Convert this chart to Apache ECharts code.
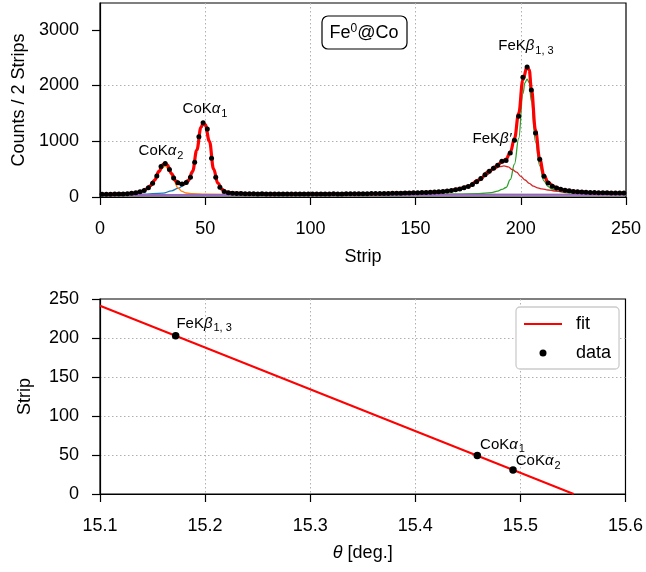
<!DOCTYPE html>
<html><head><meta charset="utf-8">
<script src="https://cdn.jsdelivr.net/npm/echarts@6/dist/echarts.min.js"></script>
<style>html,body{margin:0;padding:0;background:#fff}#c{width:646px;height:572px}</style>
</head><body><div id="c"></div>
<script>
// ---- top panel: spectrum (counts per 2 strips) ----
const stripX = [1,3,5,7,9,11,13,15,17,19,21,23,25,27,29,31,33,35,37,39,41,43,45,47,49,51,53,55,57,59,61,63,65,67,69,71,73,75,77,79,81,83,85,87,89,91,93,95,97,99,101,103,105,107,109,111,113,115,117,119,121,123,125,127,129,131,133,135,137,139,141,143,145,147,149,151,153,155,157,159,161,163,165,167,169,171,173,175,177,179,181,183,185,187,189,191,193,195,197,199,201,203,205,207,209,211,213,215,217,219,221,223,225,227,229,231,233,235,237,239,241,243,245,247,249];
const counts = [48,50,50,52,55,56,60,66,75,92,118,165,245,375,545,600,495,340,255,232,258,355,625,1080,1330,1220,695,355,175,100,78,68,64,62,60,58,58,56,57,55,55,54,56,54,55,54,53,55,54,55,56,54,55,56,55,57,56,56,58,57,58,59,60,60,61,62,63,64,65,66,67,68,70,72,74,76,79,82,85,90,95,100,108,118,130,145,165,190,222,275,330,400,460,515,570,640,655,790,1020,1450,2150,2330,1920,1150,675,370,250,195,160,138,122,110,100,95,90,86,82,80,78,76,74,73,72,71,70];
// total fit (red)
const fitX = [0,10,16,20,22,24,26,28,30,31,32,34,36,38,40,42,44,46,48,49,50,52,54,56,58,60,64,70,100,130,150,160,165,170,175,180,185,188,191,193,195,197,199,201,203,204,205,207,209,211,213,216,220,225,235,250];
const fitY = [45,55,70,103,140,205,305,460,585,600,570,420,290,235,240,300,460,840,1250,1320,1300,1000,500,250,135,90,68,60,55,62,80,88,105,140,190,305,460,545,625,680,800,1050,1500,2100,2340,2280,1950,1200,680,390,260,180,130,100,80,68];
// components
const c1X = [0,20,30,34,37,40,42,44,46,48,49,50,52,54,56,58,60,65,75,100,250];          // CoKα1 (blue)
const c1Y = [42,50,70,110,155,215,265,420,850,1230,1290,1270,1000,520,250,140,95,62,50,45,42];
const c2X = [0,15,20,24,27,29,31,33,35,37,39,41,44,50,70,250];                           // CoKα2 (orange)
const c2Y = [45,60,90,190,360,500,555,470,300,165,100,72,60,52,45,42];
const c3X = [150,170,180,186,189,191,193,195,197,199,201,202,203,204,205,207,209,211,213,215,218,222,230,250]; // FeKβ1,3 (green)
const c3Y = [45,50,62,80,105,135,170,310,590,1050,1850,2050,2115,2050,1720,990,560,290,185,140,100,75,58,48];
const c4X = [130,150,160,170,175,180,184,187,190,192,194,196,198,200,202,204,206,208,210,213,216,220,225,235,250]; // FeKβ' (dark red)
const c4Y = [55,75,105,130,180,290,400,490,545,558,540,490,445,370,305,245,195,165,145,126,108,92,80,65,55];
const bgX = [0,250];                                                                        // background (purple)
const bgY = [38,42];

// ---- bottom panel: calibration ----
const thetaPts = [15.172, 15.459, 15.493];
const stripPts = [203, 49.4, 30.8];
const ptNames = [['FeK','β','1, 3'],['CoK','α','1'],['CoK','α','2']];
const fitTheta = [15.1, 15.5507];
const fitStrip = [241.4, 0];

const zip = (a,b) => a.map((v,i)=>[v,b[i]]);
const FONT = 'Liberation Sans';
const rich = {
  n:{fontSize:15,fontFamily:FONT,color:'#000',lineHeight:20},
  g:{fontSize:15,fontFamily:FONT,fontStyle:'italic',color:'#000',lineHeight:20},
  s:{fontSize:11,fontFamily:FONT,color:'#000',lineHeight:20,padding:[9,0,0,1]}
};
const lab = p => `{n|${p[0]}}{g|${p[1]}}{s|${p[2]}}`;

const chart = echarts.init(document.getElementById('c'));
const axisCommon = {
  axisLine:{show:true,onZero:false,lineStyle:{color:'#000',width:1.2}},
  axisTick:{show:true,length:8,lineStyle:{color:'#000',width:1.2}},
  axisLabel:{color:'#000',fontSize:18,fontFamily:FONT,margin:23},
  splitLine:{show:true,showMinLine:false,showMaxLine:false,lineStyle:{color:'#b0b0b0',width:1,type:[1.5,2.5]}},
  nameTextStyle:{color:'#000',fontSize:18,fontFamily:FONT}
};
const compLine = (name,x,y,color,w) => ({name,type:'line',xAxisIndex:0,yAxisIndex:0,data:zip(x,y),
  showSymbol:false,symbol:'none',smooth:0.4,smoothMonotone:'x',lineStyle:{color,width:w||1.3},z:1,silent:true});

chart.setOption({
  animation:false,
  backgroundColor:'#fff',
  textStyle:{fontFamily:FONT},
  grid:[
    {left:100,top:3,width:526,height:194,show:true,borderColor:'#000',borderWidth:1.2,backgroundColor:'transparent'},
    {left:100,top:299,width:526,height:195,show:true,borderColor:'#000',borderWidth:1.2,backgroundColor:'transparent'}
  ],
  xAxis:[
    Object.assign({},axisCommon,{gridIndex:0,type:'value',min:0,max:250,interval:50,name:'Strip',nameLocation:'middle',nameGap:51}),
    Object.assign({},axisCommon,{gridIndex:1,type:'value',min:15.1,max:15.6,interval:0.1,name:'{i|θ} [deg.]',nameLocation:'middle',nameGap:50,
      axisLabel:Object.assign({},axisCommon.axisLabel,{formatter:v=>v.toFixed(1)}),
      nameTextStyle:{color:'#000',fontSize:18,fontFamily:FONT,rich:{i:{fontStyle:'italic',fontSize:18,fontFamily:FONT,color:'#000'}}}})
  ],
  yAxis:[
    Object.assign({},axisCommon,{gridIndex:0,type:'value',min:0,max:3480,interval:1000,name:'Counts / 2 Strips',nameLocation:'middle',nameGap:66,
      axisTick:Object.assign({},axisCommon.axisTick,{customValues:[0,1000,2000,3000]}),
      axisLabel:Object.assign({},axisCommon.axisLabel,{margin:21,customValues:[0,1000,2000,3000],formatter:v=>String(v)})}),
    Object.assign({},axisCommon,{gridIndex:1,type:'value',min:0,max:250,interval:50,name:'Strip',nameLocation:'middle',nameGap:66,
      axisLabel:Object.assign({},axisCommon.axisLabel,{margin:21,formatter:v=>String(v)})})
  ],
  legend:{
    data:[{name:'fit',itemStyle:{opacity:0}},{name:'data'}],orient:'vertical',left:516,top:307,padding:[8,8,7,7],itemGap:11,itemWidth:38,itemHeight:7,
    borderColor:'#cccccc',borderWidth:1.3,borderRadius:4,backgroundColor:'#fff',
    textStyle:{fontSize:18,fontFamily:FONT,color:'#000',padding:[0,0,0,9]}
  },
  series:[
    {name:'total',type:'line',xAxisIndex:0,yAxisIndex:0,data:zip(fitX,fitY),showSymbol:false,symbol:'none',
      smooth:0.4,smoothMonotone:'x',lineStyle:{color:'#ff0000',width:3.2},z:2,silent:true},
    compLine('CoKa1',c1X,c1Y,'#1f77b4'),
    compLine('CoKa2',c2X,c2Y,'#ff7f0e'),
    compLine('FeKb13',c3X,c3Y,'#2ca02c'),
    compLine('FeKbp',c4X,c4Y,'#d62728'),
    compLine('bg',bgX,bgY,'#9467bd',2),
    {name:'spec',type:'scatter',xAxisIndex:0,yAxisIndex:0,data:zip(stripX,counts),symbolSize:5,
      itemStyle:{color:'#000',opacity:1},z:5,silent:true},
    {name:'fit',type:'line',xAxisIndex:1,yAxisIndex:1,data:zip(fitTheta,fitStrip),showSymbol:false,symbol:'none',
      lineStyle:{color:'#ff0000',width:2},itemStyle:{color:'#ff0000'},z:2,silent:true},
    {name:'data',type:'scatter',xAxisIndex:1,yAxisIndex:1,symbol:'circle',symbolSize:7.5,itemStyle:{color:'#000',opacity:1},z:5,silent:true,
      data:thetaPts.map((t,i)=>({value:[t,stripPts[i]],label:{show:true,position:'right',distance:0,color:'#000',opacity:1,
        offset:[[-3,-12],[-1,-11],[-1,-9]][i],formatter:lab(ptNames[i]),rich}}))}
  ],
  graphic:[
    {type:'rect',shape:{x:322,y:16,width:85,height:33,r:6},style:{fill:'#fff',stroke:'#000',lineWidth:1.2},z:50},
    {type:'text',x:364,y:33,z:51,style:{text:'{n|Fe}{p|0}{n|@Co}',align:'center',verticalAlign:'middle',
      rich:{n:{fontSize:18,fontFamily:FONT,color:'#000',lineHeight:22},p:{fontSize:12,fontFamily:FONT,color:'#000',lineHeight:22,padding:[0,0,9,0]}}}},
    {type:'text',x:161,y:151,z:51,style:{text:lab(['CoK','α','2']),align:'center',verticalAlign:'middle',rich}},
    {type:'text',x:205,y:109,z:51,style:{text:lab(['CoK','α','1']),align:'center',verticalAlign:'middle',rich}},
    {type:'text',x:492,y:139,z:51,style:{text:'{n|FeK}{g|β′}',align:'center',verticalAlign:'middle',rich}},
    {type:'text',x:526,y:46,z:51,style:{text:lab(['FeK','β','1, 3']),align:'center',verticalAlign:'middle',rich}}
  ]
});
</script></body></html>
